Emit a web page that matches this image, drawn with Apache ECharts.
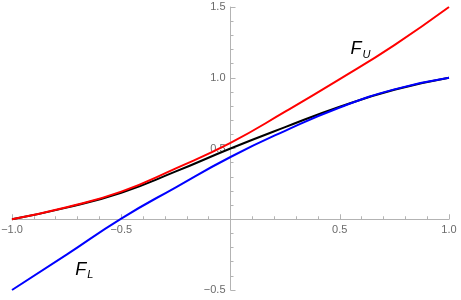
<!DOCTYPE html>
<html>
<head>
<meta charset="utf-8">
<script src="https://cdn.jsdelivr.net/npm/echarts@6/dist/echarts.min.js"></script>
<style>html,body{margin:0;padding:0;background:#fff;}#c{width:461px;height:300px;}</style>
</head>
<body>
<div id="c"></div>
<script>
var xs = [-1, -0.75, -0.5, -0.25, 0, 0.25, 0.5, 0.75, 1];
var upperF = [0, 0.085, 0.195, 0.36, 0.54, 0.76, 0.99, 1.231, 1.5];
var middleF = [0, 0.082, 0.187, 0.338, 0.5, 0.651, 0.795, 0.915, 1.0];
var lowerF = [-0.5, -0.25, 0.005, 0.226, 0.44, 0.625, 0.79, 0.918, 1.0];
var xTicks = [-1, -0.5, 0.5, 1];
var yTicks = [-0.5, 0.5, 1.0, 1.5];
var labelU = {x: 0.6, y: 1.2, main: 'F', sub: 'U'};
var labelL = {x: -0.66, y: -0.36, main: 'F', sub: 'L'};

function pairs(ys){ return xs.map(function(x,i){ return [x, ys[i]]; }); }
function fmt(v){
  var s = v.toFixed(1);
  return s.replace('-', '\u2212');
}
var axisCol = '#b3b3b3';
var labCol = '#6b6b6b';
var chart = echarts.init(document.getElementById('c'), null, {renderer:'canvas'});
chart.setOption({
  animation: false,
  grid: {left: 12, right: 12, top: 7, bottom: 10, containLabel: false, outerBoundsMode: 'none'},
  xAxis: {
    type: 'value', min: -1, max: 1, interval: 0.5,
    axisLine: {show: true, onZero: true, lineStyle: {color: axisCol, width: 1}},
    axisTick: {show: true, inside: true, length: 5, lineStyle: {color: axisCol}},
    minorTick: {show: true, splitNumber: 5, length: 3, lineStyle: {color: axisCol}},
    splitLine: {show: false},
    axisLabel: {show: false}
  },
  yAxis: {
    type: 'value', min: -0.5, max: 1.5, interval: 0.5,
    axisLine: {show: true, onZero: true, lineStyle: {color: axisCol, width: 1}},
    axisTick: {show: true, inside: true, length: 5, lineStyle: {color: axisCol}},
    minorTick: {show: true, splitNumber: 5, length: 3, lineStyle: {color: axisCol}},
    splitLine: {show: false},
    axisLabel: {show: false}
  },
  series: [
    {type: 'line', data: pairs(middleF), smooth: 0.5, showSymbol: false, lineStyle: {color: '#000000', width: 2}, z: 2},
    {type: 'line', data: pairs(lowerF), smooth: 0.5, showSymbol: false, lineStyle: {color: '#0000ff', width: 2}, z: 3},
    {type: 'line', data: pairs(upperF), smooth: 0.5, showSymbol: false, lineStyle: {color: '#ff0000', width: 2}, z: 4}
  ]
});
function labelGraphic(l){
  var p = chart.convertToPixel({gridIndex: 0}, [l.x, l.y]);
  return {
    type: 'group', x: p[0], y: p[1], children: [
      {type: 'text', x: 0, y: 0, style: {text: l.main, font: 'italic 18px "Liberation Sans"', fill: '#000', textAlign: 'right', textVerticalAlign: 'middle'}},
      {type: 'text', x: 1, y: 5, style: {text: l.sub, font: 'italic 11px "Liberation Sans"', fill: '#000', textAlign: 'left', textVerticalAlign: 'middle'}}
    ]
  };
}
var g = [labelGraphic(labelU), labelGraphic(labelL)];
xTicks.forEach(function(t){
  var p = chart.convertToPixel({gridIndex: 0}, [t, 0]);
  g.push({type: 'text', x: p[0], y: p[1] + 5, z: 1, style: {text: fmt(t), font: '11px "Liberation Sans"', fill: labCol, textAlign: 'center', textVerticalAlign: 'top'}});
});
yTicks.forEach(function(t){
  var p = chart.convertToPixel({gridIndex: 0}, [0, t]);
  g.push({type: 'text', x: p[0] - 5, y: p[1], z: 1, style: {text: fmt(t), font: '11px "Liberation Sans"', fill: labCol, textAlign: 'right', textVerticalAlign: 'middle'}});
});
chart.setOption({graphic: g});
</script>
</body>
</html>
